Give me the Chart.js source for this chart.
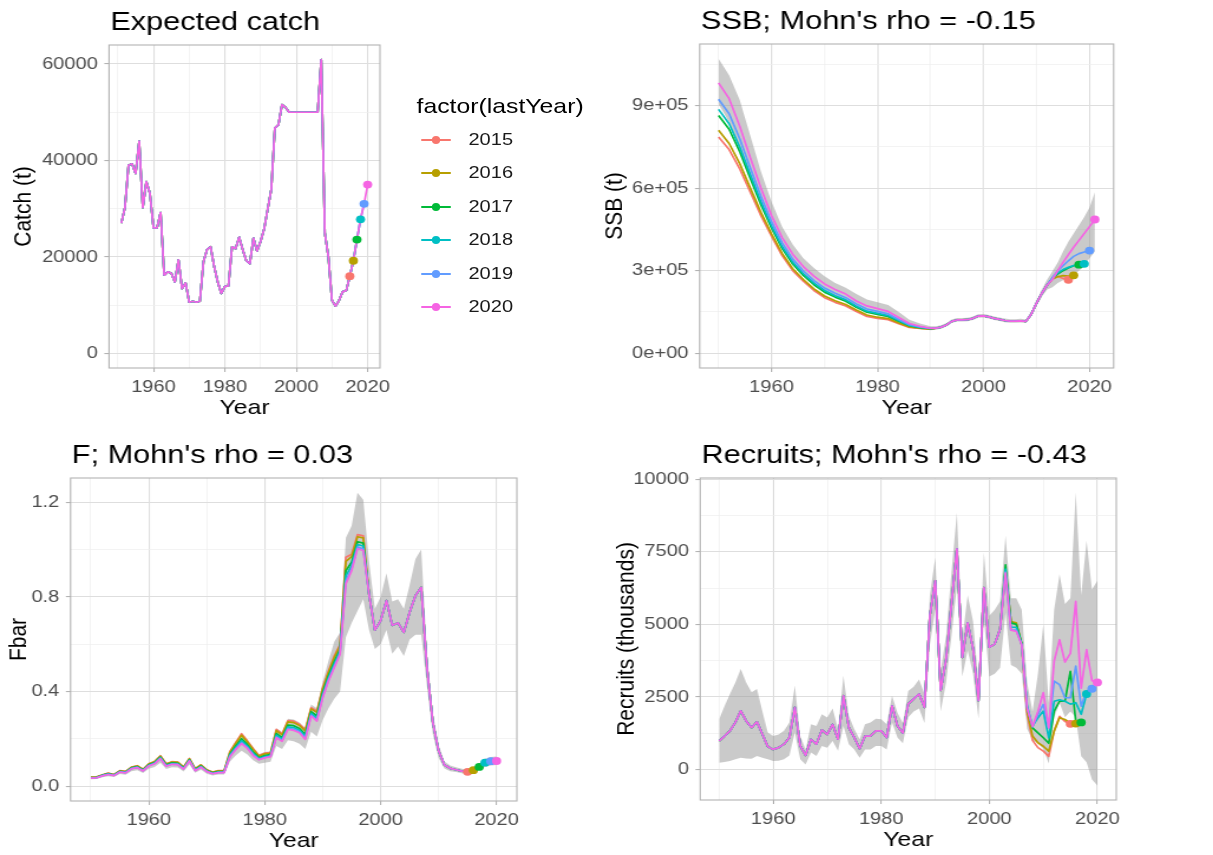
<!DOCTYPE html>
<html>
<head>
<meta charset="utf-8">
<title>Retrospective plots</title>
<script src="https://cdn.jsdelivr.net/npm/chart.js@4.4.1/dist/chart.umd.min.js"></script>
<style>
    html, body { margin: 0; padding: 0; background: #fff; }
    body { width: 1213px; height: 855px; position: relative; overflow: hidden;
           font-family: "Liberation Sans", Arial, sans-serif; }
    /* the source figure is stretched sideways, so the whole stage is too */
    #stage { position: absolute; left: 0; top: 0; width: 1028px; height: 855px;
             transform: scaleX(1.18); transform-origin: 0 0; }
    .panel { position: absolute; }
    .legend-title { position: absolute; left: 353px; top: 94px; font-size: 21px; line-height: 24px; color: #000; white-space: nowrap; }
    .key-row { position: absolute; left: 0; height: 24px; width: 200px; }
    .key-line { position: absolute; left: 357px; top: 11px; width: 25px; height: 2px; }
    .key-dot { position: absolute; left: 366px; top: 8px; width: 7px; height: 8px; border-radius: 50%; }
    .key-text { position: absolute; left: 397px; top: 0; font-size: 17px; line-height: 24px; color: #1a1a1a; }
</style>
</head>
<body>
<div id="stage">
    <div class="panel" style="left:8px;top:0;width:329px;height:421px"><canvas id="catch-chart"></canvas></div>
    <div class="panel" style="left:509.4px;top:0;width:448.8px;height:421px"><canvas id="ssb-chart"></canvas></div>
    <div class="panel" style="left:3.5px;top:430px;width:449px;height:424px"><canvas id="f-chart"></canvas></div>
    <div class="panel" style="left:519px;top:430px;width:442px;height:423px"><canvas id="rec-chart"></canvas></div>
    <div id="legend"></div>
</div>

<script>
// retro peels (lastYear) and their ggplot hue colours
const runYears = [2015, 2016, 2017, 2018, 2019, 2020];
const runColors = ['#F8766D', '#B79F00', '#00BA38', '#00BFC4', '#619CFF', '#F564E3'];

// axis breaks (every second one carries a label)
const yearTicks = [1950, 1960, 1970, 1980, 1990, 2000, 2010, 2020];
const catchTicks = [0, 10000, 20000, 30000, 40000, 50000, 60000];
const ssbTicks = [0, 150000, 300000, 450000, 600000, 750000, 900000, 1050000];
const fTicks = [0, 0.2, 0.4, 0.6, 0.8, 1.0, 1.2];
const recTicks = [0, 1250, 2500, 3750, 5000, 6250, 7500, 8750, 10000];

// Expected catch (t), 1951-2020
const catchStart = 1951;
const catchValues = [27000, 30200, 39000, 39300, 37300, 44000, 30200, 35600, 33200,
    26000, 26000, 29200, 16200, 16900, 16600, 14800, 19400, 13400, 14600,
    10600, 10800, 10600, 10800, 19000, 21500, 22100, 18000, 14800, 12400,
    13900, 14000, 22100, 21700, 24100, 21500, 19200, 18600, 23900, 21200,
    23200, 25800, 29900, 34000, 46700, 47400, 51600, 51000, 50000, 50000,
    50000, 50000, 50000, 50000, 50000, 50000, 50000, 60900, 25000, 20000,
    11000, 9800, 11000, 12800, 13000, 16000, 19200, 23600, 27800, 31000, 35000];

// SSB (thousand t): every second year 1950-1990, shared 1991-2012, peel tails from 2013
const ssbHeadYears = [1950, 1952, 1954, 1956, 1958, 1960, 1962, 1964, 1966, 1968, 1970,
    1972, 1974, 1976, 1978, 1980, 1982, 1984, 1986, 1988, 1990];
const ssbHead2015 = [786, 740, 670, 585, 500, 425, 355, 300, 262, 228, 202, 185, 172, 152, 134, 127, 122, 107, 94, 90, 88];
const ssbHead2016 = [810, 762, 689, 600, 512, 434, 363, 307, 268, 234, 208, 191, 177, 157, 139, 131, 126, 110, 96, 91, 88];
const ssbHead2017 = [864, 814, 732, 635, 540, 455, 381, 324, 283, 249, 222, 204, 189, 167, 149, 141, 134, 116, 100, 93, 89];
const ssbHead2018 = [886, 834, 749, 649, 551, 463, 388, 331, 289, 255, 228, 209, 194, 171, 153, 145, 137, 119, 101, 94, 90];
const ssbHead2019 = [923, 870, 779, 673, 570, 478, 401, 342, 299, 264, 237, 218, 202, 179, 161, 152, 143, 123, 104, 96, 90];
const ssbHead2020 = [982, 925, 825, 710, 600, 500, 420, 360, 315, 280, 252, 232, 215, 190, 172, 162, 152, 130, 108, 98, 91];
const ssbShared = [91, 95, 103, 116, 121, 121, 122, 127, 135, 136, 132, 127, 123, 119, 117, 117, 118, 116, 142, 182, 218, 248];
const ssbTail2015 = [270, 280, 272, 267];
const ssbTail2016 = [270, 278, 282, 280, 283];
const ssbTail2017 = [272, 288, 300, 310, 318, 322];
const ssbTail2018 = [273, 292, 304, 312, 319, 323, 325];
const ssbTail2019 = [275, 300, 318, 336, 352, 362, 368, 373];
const ssbTail2020 = [268, 300, 330, 358, 385, 410, 435, 460, 486];
const ssbLowHead = [905, 840, 730, 630, 540, 450, 380, 325, 285, 250, 224, 209, 192, 165, 149, 139, 129, 110, 94, 88, 84];
const ssbHighHead = [1070, 1010, 920, 790, 660, 550, 460, 395, 345, 310, 280, 255, 238, 215, 195, 185, 175, 150, 122, 108, 98];
const ssbLowTail = [85, 89, 97, 110, 115, 115, 116, 121, 129, 130, 126, 121, 117, 113, 111, 111, 112, 110, 135, 172,
    205, 232, 240, 255, 265, 272, 285, 300, 318, 345, 370];
const ssbHighTail = [98, 102, 110, 123, 128, 128, 129, 134, 142, 143, 139, 134, 130, 126, 124, 124, 125, 123, 150, 192,
    232, 268, 298, 330, 370, 405, 435, 465, 495, 530, 585];

// Fbar: peel heads 1950-1997, shared 1998-2014, tails from 2015
const fHead2015 = [0.039, 0.040, 0.049, 0.056, 0.050, 0.066, 0.063, 0.081, 0.087, 0.072, 0.095, 0.105, 0.129, 0.095, 0.104, 0.102,
    0.082, 0.118, 0.075, 0.091, 0.070, 0.060, 0.066, 0.066, 0.147, 0.185, 0.222, 0.192, 0.160, 0.130, 0.140, 0.142,
    0.240, 0.222, 0.278, 0.275, 0.262, 0.240, 0.332, 0.318, 0.417, 0.487, 0.551, 0.600, 0.967, 0.980, 1.063, 1.058];
const fHead2016 = [0.038, 0.039, 0.048, 0.055, 0.049, 0.065, 0.062, 0.080, 0.086, 0.071, 0.094, 0.104, 0.127, 0.094, 0.102, 0.101,
    0.081, 0.116, 0.074, 0.090, 0.069, 0.059, 0.065, 0.065, 0.144, 0.181, 0.216, 0.187, 0.156, 0.127, 0.137, 0.139,
    0.235, 0.217, 0.272, 0.269, 0.257, 0.234, 0.327, 0.312, 0.411, 0.481, 0.544, 0.594, 0.950, 0.970, 1.054, 1.049];
const fHead2017 = [0.037, 0.038, 0.047, 0.053, 0.048, 0.063, 0.060, 0.078, 0.083, 0.069, 0.091, 0.100, 0.123, 0.090, 0.099, 0.097,
    0.078, 0.113, 0.071, 0.086, 0.066, 0.057, 0.062, 0.062, 0.136, 0.170, 0.201, 0.176, 0.145, 0.121, 0.130, 0.134,
    0.223, 0.206, 0.259, 0.256, 0.244, 0.219, 0.315, 0.297, 0.396, 0.466, 0.526, 0.579, 0.911, 0.946, 1.033, 1.027];
const fHead2018 = [0.036, 0.037, 0.046, 0.052, 0.047, 0.062, 0.059, 0.076, 0.081, 0.067, 0.089, 0.098, 0.121, 0.088, 0.096, 0.095,
    0.076, 0.110, 0.069, 0.084, 0.064, 0.055, 0.060, 0.060, 0.132, 0.164, 0.193, 0.170, 0.139, 0.117, 0.126, 0.130,
    0.216, 0.200, 0.251, 0.248, 0.237, 0.211, 0.308, 0.288, 0.387, 0.458, 0.516, 0.571, 0.889, 0.932, 1.021, 1.015];
const fHead2019 = [0.035, 0.036, 0.045, 0.051, 0.046, 0.061, 0.058, 0.075, 0.080, 0.066, 0.087, 0.096, 0.118, 0.086, 0.094, 0.093,
    0.074, 0.108, 0.067, 0.082, 0.063, 0.054, 0.059, 0.059, 0.128, 0.159, 0.185, 0.164, 0.134, 0.114, 0.122, 0.127,
    0.209, 0.194, 0.245, 0.241, 0.230, 0.203, 0.301, 0.280, 0.379, 0.450, 0.507, 0.563, 0.868, 0.919, 1.010, 1.003];
const fHead2020 = [0.035, 0.036, 0.044, 0.050, 0.045, 0.060, 0.057, 0.074, 0.079, 0.065, 0.086, 0.095, 0.117, 0.085, 0.093, 0.092,
    0.073, 0.107, 0.066, 0.081, 0.062, 0.053, 0.058, 0.058, 0.125, 0.155, 0.180, 0.160, 0.130, 0.112, 0.120, 0.125,
    0.205, 0.190, 0.240, 0.236, 0.226, 0.198, 0.297, 0.275, 0.374, 0.445, 0.501, 0.558, 0.855, 0.911, 1.003, 0.996];
const fShared = [0.810, 0.660, 0.700, 0.784, 0.680, 0.690, 0.650, 0.735, 0.805, 0.840, 0.500, 0.270, 0.150, 0.090, 0.076, 0.070, 0.064];
const fTail2015 = [0.061];
const fTail2016 = [0.062, 0.068];
const fTail2017 = [0.062, 0.070, 0.082];
const fTail2018 = [0.062, 0.070, 0.086, 0.100];
const fTail2019 = [0.062, 0.070, 0.086, 0.099, 0.106];
const fTail2020 = [0.062, 0.070, 0.086, 0.099, 0.105, 0.107];
const fLow = [0.030, 0.031, 0.038, 0.043, 0.039, 0.052, 0.049, 0.064, 0.068, 0.056,
    0.074, 0.082, 0.100, 0.073, 0.080, 0.079, 0.063, 0.092, 0.057, 0.070,
    0.053, 0.046, 0.050, 0.050, 0.105, 0.130, 0.150, 0.134, 0.110, 0.095,
    0.100, 0.104, 0.170, 0.158, 0.195, 0.190, 0.180, 0.158, 0.230, 0.210,
    0.280, 0.330, 0.370, 0.400, 0.630, 0.690, 0.740, 0.790, 0.660, 0.580,
    0.600, 0.660, 0.560, 0.590, 0.550, 0.620, 0.640, 0.640, 0.420, 0.220,
    0.120, 0.075, 0.064, 0.060, 0.055, 0.052, 0.058, 0.070, 0.082, 0.088, 0.090];
const fHigh = [0.040, 0.041, 0.050, 0.057, 0.052, 0.068, 0.065, 0.084, 0.090, 0.074,
    0.098, 0.108, 0.134, 0.098, 0.107, 0.105, 0.084, 0.122, 0.077, 0.093,
    0.072, 0.062, 0.068, 0.068, 0.150, 0.188, 0.222, 0.195, 0.162, 0.135,
    0.145, 0.148, 0.245, 0.228, 0.285, 0.282, 0.270, 0.245, 0.345, 0.330,
    0.440, 0.530, 0.610, 0.650, 1.050, 1.100, 1.240, 1.210, 0.950, 0.750,
    0.800, 0.900, 0.780, 0.790, 0.750, 0.850, 0.960, 1.000, 0.560, 0.310,
    0.175, 0.105, 0.088, 0.080, 0.074, 0.070, 0.080, 0.096, 0.116, 0.124, 0.126];

// Recruits (thousands): shared 1950-2002, peel tails from 2003
const recShared = [980, 1150, 1330, 1620, 2020, 1670, 1440, 1640, 1210, 785,
    690, 750, 870, 1100, 2140, 810, 485, 1040, 870, 1360,
    1210, 1550, 1040, 2540, 1440, 1100, 715, 1150, 1150, 1330,
    1330, 1100, 2190, 1500, 1250, 2260, 2430, 2600, 2140, 5300,
    6500, 2720, 3800, 5700, 7600, 3860, 5050, 4150, 2370, 6270,
    4210, 4320, 4840];
const recTail2015 = [6800, 5100, 5000, 4300, 1900, 1000, 750, 630, 450, 1320, 1830, 1650, 1570];
const recTail2016 = [6850, 5100, 5050, 4300, 2000, 1150, 920, 800, 630, 1320, 1780, 1720, 1600, 1580];
const recTail2017 = [7050, 5050, 5000, 4350, 2100, 1430, 1260, 1090, 900, 2010, 2350, 2350, 3380, 1660, 1620];
const recTail2018 = [6900, 4900, 4900, 4300, 2200, 1490, 1780, 2010, 1090, 2350, 2400, 2350, 2250, 2300, 1900, 2600];
const recTail2019 = [6800, 4800, 4800, 4300, 2150, 1460, 1890, 2240, 1430, 3040, 2920, 2470, 2470, 3560, 2180, 2700, 2780];
const recTail2020 = [6770, 4800, 4760, 4300, 2100, 1490, 2000, 2650, 1430, 3730, 4470, 3700, 4000, 5790, 2800, 4130, 3060, 3000];
const recLow = [230, 260, 290, 350, 400, 380, 370, 460, 400, 350,
    290, 300, 350, 480, 1270, 350, 170, 580, 460, 810,
    750, 980, 640, 1500, 870, 690, 400, 690, 690, 810,
    810, 690, 1620, 1100, 900, 1800, 2000, 2100, 1600, 4300,
    5500, 2000, 3000, 4600, 6300, 3200, 4100, 3300, 1750, 5200,
    3200, 3300, 3500, 5400, 3600, 3500, 3300, 1400, 1000, 900,
    700, 200, 1800, 2300, 1800, 2000, 1800, 450, 250, -350, -550];
const recHigh = [1730, 2190, 2600, 3000, 3460, 3000, 2660, 2770, 2000, 1270,
    1150, 1200, 1330, 1620, 2890, 1150, 690, 1560, 1500, 1900,
    1790, 2100, 1390, 3230, 1850, 1390, 1040, 1560, 1620, 1750,
    1730, 1560, 2540, 1950, 1600, 2700, 2850, 3100, 2600, 6000,
    7300, 3400, 4600, 6800, 8850, 4500, 6000, 5100, 3000, 7480,
    5300, 5500, 5800, 8050, 5900, 5900, 5500, 3000, 2000, 3300,
    5000, 2300, 5500, 6730, 5700, 5900, 9540, 6000, 7880, 6200, 6500];

const bandFill = 'rgba(150,150,150,0.5)';
const textGrey = '#4D4D4D';

Chart.defaults.font.family = '"Liberation Sans", Arial, sans-serif';
Chart.defaults.animation = false;
Chart.defaults.events = [];
Chart.defaults.plugins.legend.display = false;
Chart.defaults.plugins.tooltip.enabled = false;

// ggplot-like panel border, drawn over the data
const panelBox = {
    id: 'panelBox',
    afterDatasetsDraw(chart) {
        const {ctx, chartArea: a} = chart;
        ctx.save();
        ctx.strokeStyle = '#B3B3B3';
        ctx.lineWidth = 1.1;
        ctx.strokeRect(a.left, a.top, a.right - a.left, a.bottom - a.top);
        ctx.restore();
    }
};

// plot title left-aligned with the panel
const panelTitle = {
    id: 'panelTitle',
    afterDraw(chart, args, opts) {
        const {ctx, chartArea: a} = chart;
        ctx.save();
        ctx.font = '26px "Liberation Sans", Arial, sans-serif';
        ctx.fillStyle = '#000';
        ctx.textBaseline = 'alphabetic';
        ctx.textAlign = 'left';
        ctx.fillText(opts.text, a.left + 1, a.top - 15);
        ctx.restore();
    }
};
Chart.register(panelBox, panelTitle);

function yearSeries(start, values, k) {
    return values.map((v, i) => ({x: start + i, y: v * k}));
}

function pairSeries(years, values, k) {
    return values.map((v, i) => ({x: years[i], y: v * k}));
}

function gridStyle(isMajor) {
    return {
        color: (c) => isMajor(c.tick.value) ? '#DEDEDE' : '#EEEEEE',
        lineWidth: (c) => isMajor(c.tick.value) ? 1.1 : 0.7,
        tickColor: (c) => isMajor(c.tick.value) ? '#B3B3B3' : 'rgba(0,0,0,0)',
        tickLength: 4,
        drawTicks: true
    };
}

function makePanel(canvasId, cfg) {
    const datasets = [];
    if (cfg.band) {
        datasets.push({data: cfg.band[0], borderWidth: 0, pointRadius: 0, fill: false, order: 50});
        datasets.push({data: cfg.band[1], borderWidth: 0, pointRadius: 0, fill: '-1',
            backgroundColor: bandFill, order: 50});
    }
    cfg.runs.forEach((run, i) => {
        datasets.push({data: run, borderColor: runColors[i], borderWidth: 1.7, pointRadius: 0,
            fill: false, borderJoinStyle: 'round', tension: 0, order: 20 - i});
    });
    // end point of every peel
    datasets.push({
        data: cfg.runs.map(run => run[run.length - 1]),
        showLine: false, pointRadius: 3.9, pointBorderWidth: 0,
        pointBackgroundColor: runColors, order: 0
    });

    const xMajor = v => v % 20 === 0;

    return new Chart(document.getElementById(canvasId), {
        type: 'line',
        data: {datasets: datasets},
        options: {
            responsive: true,
            maintainAspectRatio: false,
            layout: {padding: {top: cfg.padTop, right: 15, bottom: 0, left: 0}},
            plugins: {panelTitle: {text: cfg.title}},
            scales: {
                x: {
                    type: 'linear',
                    min: cfg.xRange[0],
                    max: cfg.xRange[1],
                    border: {display: false},
                    grid: gridStyle(xMajor),
                    afterBuildTicks: s => { s.ticks = yearTicks.map(v => ({value: v})); },
                    ticks: {
                        autoSkip: false, maxRotation: 0,
                        padding: 5, color: textGrey, font: {size: 17},
                        callback: v => xMajor(v) ? String(v) : ''
                    },
                    title: {display: true, text: 'Year', color: '#000', font: {size: 21}, padding: 0},
                    afterFit: s => { s.height = 53; }
                },
                y: {
                    type: 'linear',
                    min: cfg.yRange[0],
                    max: cfg.yRange[1],
                    border: {display: false},
                    grid: gridStyle(cfg.yMajor),
                    afterBuildTicks: s => { s.ticks = cfg.yTicks.map(v => ({value: v})); },
                    ticks: {
                        autoSkip: false,
                        padding: 5.5, color: textGrey, font: {size: 17},
                        callback: v => cfg.yMajor(v) ? cfg.yLabel(v) : ''
                    },
                    title: {display: true, text: cfg.yTitle, color: '#000', font: {size: 21}, padding: 0},
                    afterFit: s => { s.width = cfg.yWidth; }
                }
            }
        }
    });
}

function sciLabel(v) {
    if (Math.round(v) === 0) return '0e+00';
    const e = Math.floor(Math.log10(Math.abs(v)) + 1e-9);
    const m = Math.round(v / Math.pow(10, e));
    return m + 'e+' + String(e).padStart(2, '0');
}

// ---- Expected catch
const catchRuns = runYears.map(yr => yearSeries(catchStart, catchValues.slice(0, yr - catchStart + 1), 1));
makePanel('catch-chart', {
    title: 'Expected catch',
    runs: catchRuns,
    xRange: [1947.55, 2023.45],
    yRange: [-3045, 63945],
    yTicks: catchTicks,
    yMajor: v => Math.round(v) % 20000 === 0,
    yLabel: v => String(Math.round(v)),
    yTitle: 'Catch (t)',
    yWidth: 84.4,
    padTop: 45
});

// ---- SSB
const ssbHeads = [ssbHead2015, ssbHead2016, ssbHead2017, ssbHead2018, ssbHead2019, ssbHead2020];
const ssbTails = [ssbTail2015, ssbTail2016, ssbTail2017, ssbTail2018, ssbTail2019, ssbTail2020];
const ssbRuns = runYears.map((yr, i) => pairSeries(ssbHeadYears, ssbHeads[i], 1000)
    .concat(yearSeries(1991, ssbShared, 1000))
    .concat(yearSeries(2013, ssbTails[i], 1000)));
makePanel('ssb-chart', {
    title: "SSB; Mohn's rho = -0.15",
    runs: ssbRuns,
    band: [
        pairSeries(ssbHeadYears, ssbLowHead, 1000).concat(yearSeries(1991, ssbLowTail, 1000)),
        pairSeries(ssbHeadYears, ssbHighHead, 1000).concat(yearSeries(1991, ssbHighTail, 1000))
    ],
    xRange: [1946.45, 2024.55],
    yRange: [-53500, 1123500],
    yTicks: ssbTicks,
    yMajor: v => Math.round(v) % 300000 === 0,
    yLabel: sciLabel,
    yTitle: 'SSB (t)',
    yWidth: 83.8,
    padTop: 44
});

// ---- F
const fHeads = [fHead2015, fHead2016, fHead2017, fHead2018, fHead2019, fHead2020];
const fTails = [fTail2015, fTail2016, fTail2017, fTail2018, fTail2019, fTail2020];
const fRuns = runYears.map((yr, i) => yearSeries(1950, fHeads[i], 1)
    .concat(yearSeries(1998, fShared, 1))
    .concat(yearSeries(2015, fTails[i], 1)));
makePanel('f-chart', {
    title: "F; Mohn's rho = 0.03",
    runs: fRuns,
    band: [yearSeries(1950, fLow, 1), yearSeries(1950, fHigh, 1)],
    xRange: [1946.5, 2023.5],
    yRange: [-0.062, 1.302],
    yTicks: fTicks,
    yMajor: v => Math.round(v * 10) % 4 === 0,
    yLabel: v => v.toFixed(1),
    yTitle: 'Fbar',
    yWidth: 55.8,
    padTop: 48
});

// ---- Recruits
const recTails = [recTail2015, recTail2016, recTail2017, recTail2018, recTail2019, recTail2020];
const recRuns = runYears.map((yr, i) => yearSeries(1950, recShared, 1).concat(yearSeries(2003, recTails[i], 1)));
makePanel('rec-chart', {
    title: "Recruits; Mohn's rho = -0.43",
    runs: recRuns,
    band: [yearSeries(1950, recLow, 1), yearSeries(1950, recHigh, 1)],
    xRange: [1946.5, 2023.5],
    yRange: [-1054, 10044],
    yTicks: recTicks,
    yMajor: v => Math.round(v) % 2500 === 0,
    yLabel: v => String(Math.round(v)),
    yTitle: 'Recruits (thousands)',
    yWidth: 74.4,
    padTop: 48
});

// ---- legend (factor(lastYear))
function buildLegend() {
    const box = document.getElementById('legend');
    const title = document.createElement('div');
    title.className = 'legend-title';
    title.textContent = 'factor(lastYear)';
    box.appendChild(title);

    runYears.forEach((yr, i) => {
        const row = document.createElement('div');
        row.className = 'key-row';
        row.style.top = (128 + i * 33.4) + 'px';

        const line = document.createElement('span');
        line.className = 'key-line';
        line.style.background = runColors[i];
        const dot = document.createElement('span');
        dot.className = 'key-dot';
        dot.style.background = runColors[i];
        const label = document.createElement('span');
        label.className = 'key-text';
        label.textContent = String(yr);

        row.appendChild(line);
        row.appendChild(dot);
        row.appendChild(label);
        box.appendChild(row);
    });
}

buildLegend();
</script>
</body>
</html>
